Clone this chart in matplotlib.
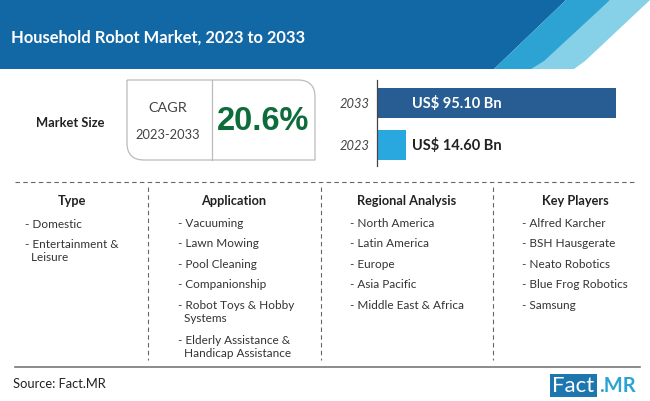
import matplotlib.pyplot as plt
from matplotlib.patches import Polygon, Rectangle, PathPatch
from matplotlib.path import Path

plt.rcParams['font.family'] = ['Lato', 'DejaVu Sans']

title = "Household Robot Market, 2023 to 2033"
years = ["2023", "2033"]
# bar lengths as drawn in the picture, the labels carry the real figures
bar_lengths = [11.6, 95.1]
bar_labels = ["US$ 14.60 Bn", "US$ 95.10 Bn"]
bar_colors = ["#29A7DF", "#275D92"]

columns = ["Type", "Application", "Regional Analysis", "Key Players"]
type_items = ["- Domestic", "- Entertainment &\n  Leisure"]
application_items = ["- Vacuuming", "- Lawn Mowing", "- Pool Cleaning", "- Companionship",
                     "- Robot Toys & Hobby\n  Systems", "- Elderly Assistance &\n  Handicap Assistance"]
regional_items = ["- North America", "- Latin America", "- Europe", "- Asia Pacific", "- Middle East & Africa"]
player_items = ["- Alfred Karcher", "- BSH Hausgerate", "- Neato Robotics", "- Blue Frog Robotics", "- Samsung"]

fig = plt.figure(figsize=(6.5, 4.01), dpi=100)

# whole picture in pixels
ax = fig.add_axes([0, 0, 1, 1])
ax.set_xlim(0, 650)
ax.set_ylim(401, 0)
ax.axis('off')

# header and the slanted bands
ax.add_patch(Polygon([(0, 0), (566, 0), (494, 69), (0, 69)], color="#1268A4", lw=0))
ax.add_patch(Polygon([(650, 0), (585, 61), (574, 69), (525, 69), (610, 0)], color="#86D0E8", lw=0))
ax.add_patch(Polygon([(610, 0), (544, 61), (531, 69), (494, 69), (566, 0)], color="#2CA3D3", lw=0))
ax.text(11, 37.5, title, color="white", fontsize=11.9, fontweight='bold', va='center')

ax.text(70, 123, "Market Size", fontsize=9.3, fontweight='bold', color="#222222", ha='center', va='center')

# CAGR box, top right and bottom left corners are round
box_verts = [(127, 80), (298, 80), (315, 80), (315, 97), (315, 160), (144, 160), (127, 160), (127, 143), (127, 80)]
box_codes = [Path.MOVETO, Path.LINETO, Path.CURVE3, Path.CURVE3, Path.LINETO, Path.LINETO,
             Path.CURVE3, Path.CURVE3, Path.LINETO]
ax.add_patch(PathPatch(Path(box_verts, box_codes), fc="none", ec="#BBBBBB", lw=0.9))
ax.plot([211.5, 211.5], [80, 160], color="#BBBBBB", lw=0.9)
ax.text(168, 108, "CAGR", fontsize=10.4, color="#444444", ha='center', va='center')
ax.text(168, 135, "2023-2033", fontsize=9.3, color="#444444", ha='center', va='center')
ax.text(263, 121, "20.6%", fontsize=23.5, fontweight='bold', color="#0E6B3A", ha='center', va='center',
        family=['Liberation Sans'])

# bars
bar_ax = fig.add_axes([377 / 650, 1 - 166 / 401, 239 / 650, 86 / 401])
bars = bar_ax.barh(years, bar_lengths, color=bar_colors, height=0.71)
bar_ax.set_xlim(0, 95.1)
bar_ax.set_ylim(-0.5, 1.55)
bar_ax.patch.set_alpha(0)
for side in ['top', 'right', 'bottom']:
    bar_ax.spines[side].set_visible(False)
bar_ax.spines['left'].set_color("#444444")
bar_ax.spines['left'].set_linewidth(0.9)
bar_ax.set_xticks([])
bar_ax.tick_params(axis='y', length=0, pad=5, labelsize=9.3, labelcolor="#444444")
for lab in bar_ax.get_yticklabels():
    lab.set_fontstyle('italic')
for i in range(len(years)):
    bar_ax.text(14, i, bar_labels[i], fontsize=10.5, fontweight='bold', va='center',
                color="white" if i == 1 else "#222222")

# dashed separators
ax.plot([15, 637], [182, 182], color="#666666", lw=0.8, ls=(0, (4, 3)))
for x in [148, 320.5, 493]:
    ax.plot([x, x], [187, 360], color="#666666", lw=0.8, ls=(0, (4, 3)))
ax.plot([15, 640], [367, 367], color="#777777", lw=1.2)

# column heads
for x, head in zip([72, 234, 407, 575], columns):
    ax.text(x, 201, head, fontsize=9.2, fontweight='bold', color="#222222", ha='center', va='center')


def item_list(x, y_start, items):
    y = y_start
    for item in items:
        ax.text(x, y, item, fontsize=8.5, color="#333333", va='top', linespacing=1.25)
        y += 20.4 + 14.6 * item.count("\n")


item_list(25, 218.5, type_items)
item_list(178, 218, application_items)
item_list(350, 218, regional_items)
item_list(522, 218, player_items)

ax.text(13, 384, "Source: Fact.MR", fontsize=9.3, color="#222222", va='center')

# logo
ax.add_patch(Rectangle((550, 374), 47, 23, color="#1E76AE", lw=0))
ax.text(573.5, 385.5, "Fact", fontsize=16, color="white", ha='center', va='center')
ax.text(599, 385.5, ".MR", fontsize=14.5, color="#2CA3D3", fontweight='bold', va='center')

plt.savefig('out.png', dpi=100)
